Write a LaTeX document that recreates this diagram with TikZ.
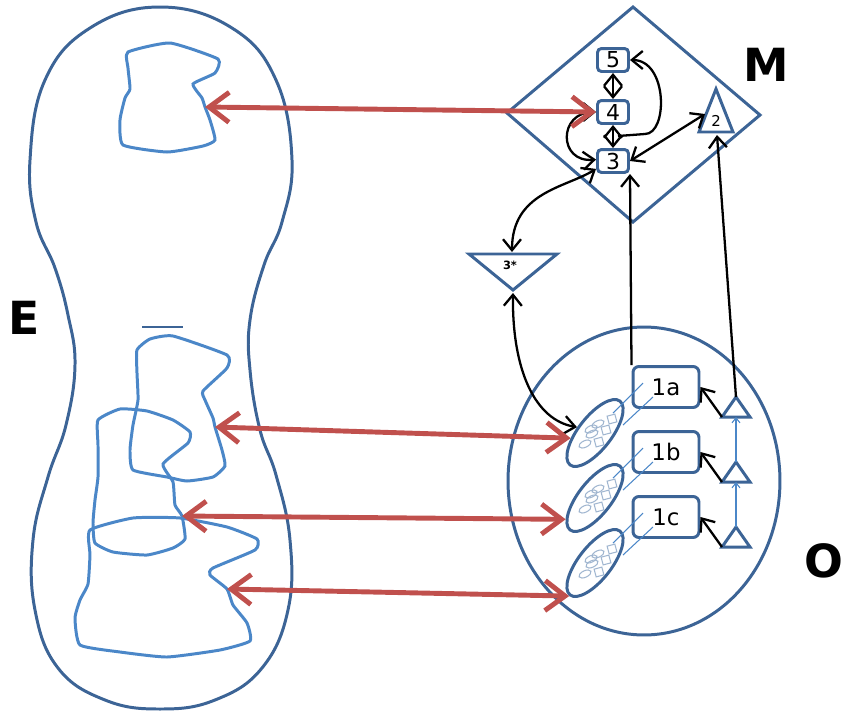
\documentclass[tikz,border=0pt]{standalone}
\usepackage{fontspec}
\setmainfont{DejaVu Sans}
\usepackage{xcolor}
\definecolor{dark_blue}{RGB}{60,100,150}
\definecolor{light_blue}{RGB}{75,135,200}
\definecolor{pale_blue}{RGB}{160,182,208}
\definecolor{light_red}{RGB}{192,80,77}
\usetikzlibrary{arrows.meta,shapes.geometric}
\tikzset{
  outline/.style={draw=dark_blue, line width=1.7pt},
  region/.style={draw=light_blue, line width=1.7pt},
  wire/.style={draw=light_blue, line width=0.6pt},
  speck/.style={draw=pale_blue, line width=0.6pt},
  smallbox/.style={outline, fill=white, rounded corners=0.08cm, inner sep=0pt, minimum width=0.62cm, minimum height=0.46cm, font=\fontsize{12.5}{13}\selectfont},
  bigbox/.style={smallbox, rounded corners=0.12cm, minimum width=1.32cm, minimum height=0.82cm, font=\fontsize{13}{14}\selectfont},
  cluster/.style={ellipse, outline, fill=white, inner sep=0pt, minimum width=1.62cm, minimum height=0.66cm, rotate=52},
  link/.style={draw=black, line width=1.3pt, -{Straight Barb[length=2.2mm,width=3.6mm]}},
  dlink/.style={draw=black, line width=1.3pt, {Straight Barb[length=2.2mm,width=3.6mm]}-{Straight Barb[length=2.2mm,width=3.6mm]}},
  biglink/.style={draw=light_red, line width=2.8pt, {Straight Barb[length=4mm,width=6mm]}-{Straight Barb[length=4mm,width=6mm]}},
  letter/.style={font=\fontsize{26}{28}\selectfont\bfseries}
}
\begin{document}
\begin{tikzpicture}[x=0.02cm,y=-0.02cm]
\useasboundingbox (0,0) rectangle (843,711);

\draw[outline] plot[smooth cycle, tension=0.7] coordinates {(160,7) (232,28) (276,80) (292,160) (282,222) (264,265) (250,320) (250,370) (260,430) (276,475) (290,540) (288,610) (262,668) (215,700) (160,709) (105,700) (58,668) (35,610) (33,540) (48,477) (66,425) (75,365) (68,315) (55,268) (36,222) (30,160) (45,80) (90,28)};
\draw[draw=dark_blue, line width=1.5pt] (142,327) -- (183,327);
\node[letter] (le) at (24,318) {E};

\draw[region] plot[smooth cycle, tension=0.3] coordinates {(128,52) (170,43) (218,59) (215,73) (193,84) (202,98) (205,107) (210,120) (215,140) (203,146) (167,152) (123,145) (120,120) (125,98) (130,89) (128,68)};
\draw[region] plot[smooth cycle, tension=0.3] coordinates {(137,350) (150,339) (173,336) (227,355) (227,368) (203,391) (205,400) (213,418) (215,427) (222,450) (225,466) (213,477) (187,481) (167,477) (133,470) (130,450) (133,425) (138,400) (137,373)};
\draw[region] plot[smooth cycle, tension=0.3] coordinates {(98,420) (120,409) (147,411) (173,420) (190,432) (188,443) (163,464) (173,482) (175,505) (182,516) (185,539) (173,548) (147,555) (113,552) (95,543) (93,523) (95,500) (98,477) (98,445)};
\draw[region] plot[smooth cycle, tension=0.3] coordinates {(90,530) (133,518) (180,518) (227,527) (257,539) (255,550) (213,568) (210,575) (227,589) (233,605) (247,623) (250,641) (220,650) (167,657) (120,652) (80,645) (75,618) (80,600) (88,584) (90,555)};
\coordinate (ea) at (205,107);
\coordinate (eb) at (215,427);
\coordinate (ec) at (182,516);
\coordinate (ed) at (227,589);

\draw[outline] (633,7) -- (760,115) -- (633,222) -- (507,113) -- cycle;
\node[letter] (lm) at (766,65) {M};
\node[smallbox] (n5) at (613,60) {5};
\node[smallbox] (n4) at (613,112) {4};
\node[smallbox] (n3) at (613,161) {3};
\draw[outline] (716,89) -- (733,132) -- (699,132) -- cycle;
\node[font=\fontsize{8.5}{9}\selectfont] (l2) at (716,121) {2};
\coordinate (t2l) at (705,114);
\coordinate (t2b) at (717,135);

\draw[outline] (469,254) -- (557,254) -- (513,290) -- cycle;
\node[font=\fontsize{6.5}{7}\selectfont\bfseries] (l3s) at (510,265) {3*};
\coordinate (t3top) at (512,252);
\coordinate (t3bot) at (513,293);

\draw[outline] (644,481) ellipse [x radius=2.72cm, y radius=3.08cm];
\node[letter] (lo) at (824,561) {O};

\foreach \n/\y/\l in {1/433/a, 2/498/b, 3/563/c} {
  \node[cluster] (c\n) at (595,\y) {};
  \foreach \dx/\dy in {3/-9, -3/1, -10/11, -4/-4}
    \draw[speck, rotate around={25:(595+\dx,\y+\dy)}] (595+\dx,\y+\dy) ellipse [x radius=0.13cm, y radius=0.065cm];
  \foreach \dx/\dy in {17/-14, 11/-3, 4/9}
    \draw[speck, rotate around={15:(595+\dx,\y+\dy)}] (591+\dx,\y+\dy-4) rectangle (599+\dx,\y+\dy+4);
  \node[bigbox] (b1\l) at (666,\y-46) {1\l};
  \draw[wire] (613,\y-20) -- (643,\y-50);
  \draw[wire] (623,\y-8) -- (653,\y-36);
  \coordinate (tl\n) at (722,\y-16);
  \coordinate (tt\n) at (736,\y-36);
  \coordinate (tb\n) at (736,\y-16);
  \draw[outline] (tl\n) -- (tt\n) -- (750,\y-16) -- cycle;
  \draw[link] (tl\n) -- (b1\l.east);
}
\draw[wire, -{Straight Barb[length=1mm,width=1.6mm]}] (tt2) -- (tb1);
\draw[wire, -{Straight Barb[length=1mm,width=1.6mm]}] (tt3) -- (tb2);

\draw[dlink] (n5) -- (n4);
\draw[dlink] (n4) -- (n3);
\coordinate (m43) at (618,136);
\draw[link] (m43) -- (645,134) .. controls (668,134) and (668,60) .. (n5.east);
\draw[dlink] (n4.west) .. controls (558,112) and (558,163) .. (n3.175);
\draw[dlink] (n3.east) -- (t2l);
\draw[dlink] (n3.205) .. controls (565,188) and (512,192) .. (t3top);
\draw[dlink] (t3bot) .. controls (512,370) and (535,420) .. (c1.110);
\draw[link] (b1a.north west) -- (n3.south east);
\draw[link] (tt1) -- (t2b);

\draw[biglink] (ea) -- (n4.west);
\draw[biglink] (eb) -- (c1.140);
\draw[biglink] (ec) -- (c2.164);
\draw[biglink] (ed) -- (c3.west);
\end{tikzpicture}
\end{document}
